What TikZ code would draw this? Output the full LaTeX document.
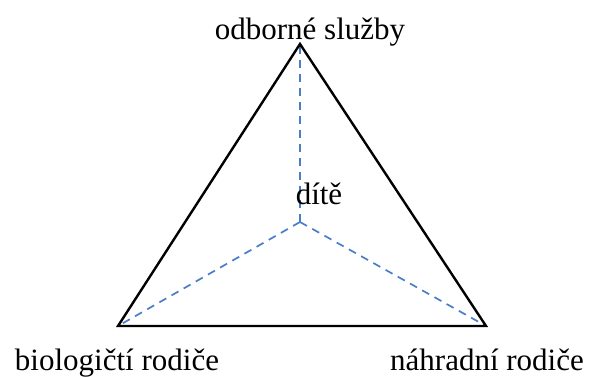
\documentclass[tikz,border=0pt]{standalone}
\usepackage{fontspec}
\setmainfont{Liberation Serif}
\definecolor{dashblue}{RGB}{74,126,200}
\begin{document}
\begin{tikzpicture}[x=1pt,y=-1pt,
  edge/.style={draw=black,line width=2.4pt,line join=miter},
  spoke/.style={draw=dashblue,line width=1.7pt,dash pattern=on 8pt off 6pt},
  lbl/.style={inner sep=0pt,anchor=base,font=\fontsize{31}{37}\selectfont}]
\useasboundingbox (0,0) rectangle (592,376);
\coordinate (T) at (300,44);
\coordinate (L) at (118,326);
\coordinate (R) at (486,326);
\coordinate (C) at (300,222);
\draw[spoke] (C) -- (T);
\draw[spoke] (C) -- (L);
\draw[spoke] (C) -- (R);
\draw[edge] (T) -- (L) -- (R) -- cycle;
\node[lbl] (top) at (310,39) {odborné služby};
\node[lbl] (child) at (319,204) {dítě};
\node[lbl] (bio) at (117,370) {biologičtí rodiče};
\node[lbl] (sub) at (487,370) {náhradní rodiče};
\end{tikzpicture}
\end{document}
